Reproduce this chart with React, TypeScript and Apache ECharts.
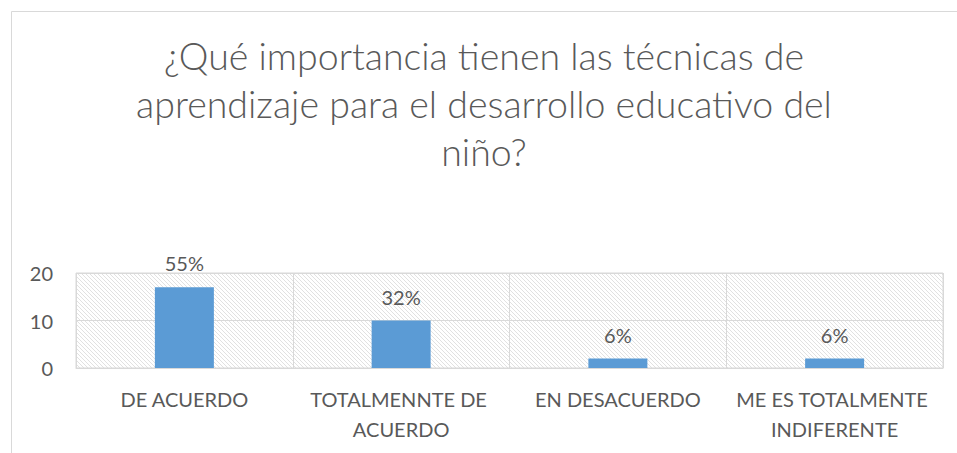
import React, { useEffect, useRef } from "react";
import * as echarts from "echarts";

const titleLines = [
  "¿Qué importancia tienen las técnicas de",
  "aprendizaje para el desarrollo educativo del",
  "niño?",
];
const categories = [
  "DE ACUERDO",
  "TOTALMENNTE DE ACUERDO",
  "EN DESACUERDO",
  "ME ES TOTALMENTE INDIFERENTE",
];
const counts = [17, 10, 2, 2];
const percentLabels = ["55%", "32%", "6%", "6%"];
const yTicks = [0, 10, 20];

const hatchSvg =
  "data:image/svg+xml;utf8," +
  encodeURIComponent(
    '<svg xmlns="http://www.w3.org/2000/svg" width="4" height="4">' +
      '<rect width="4" height="4" fill="#ffffff"/>' +
      '<path d="M-1,-1 L5,5 M-1,3 L1,5 M3,-1 L5,1" stroke="#d9d9d9" stroke-width="0.8"/>' +
      "</svg>"
  );

export default function App() {
  const ref = useRef<HTMLDivElement>(null);
  useEffect(() => {
    if (!ref.current) return;
    const chart = echarts.init(ref.current, undefined, { renderer: "svg" });
    const img = new Image();
    img.src = hatchSvg;
    chart.setOption({
      animation: false,
      backgroundColor: "#ffffff",
      title: {
        text: titleLines.join("\n"),
        left: 479,
        top: 26,
        textAlign: "center",
        textStyle: {
          fontFamily: "Lato",
          fontWeight: 300,
          fontSize: 37.5,
          lineHeight: 48,
          color: "#595959",
        },
      },
      graphic: [
        {
          type: "rect",
          shape: { x: 11.5, y: 11.5, width: 980, height: 480 },
          style: { fill: "none", stroke: "#d9d9d9", lineWidth: 1 },
          z: -10,
        },
      ],
      grid: {
        left: 76,
        right: 14,
        top: 273,
        bottom: 85,
        show: true,
        backgroundColor: { image: img, repeat: "repeat" },
        borderColor: "#d9d9d9",
        borderWidth: 1,
      },
      xAxis: {
        type: "category",
        data: categories,
        axisLine: { show: true, lineStyle: { color: "#d9d9d9" } },
        axisTick: { show: false },
        splitLine: { show: true, lineStyle: { color: "#d9d9d9" } },
        axisLabel: {
          color: "#595959",
          fontFamily: "Lato",
          fontSize: 20,
          lineHeight: 30,
          margin: 16,
          interval: 0,
          width: 212,
          overflow: "break",
        },
      },
      yAxis: {
        type: "value",
        min: yTicks[0],
        max: yTicks[yTicks.length - 1],
        interval: 10,
        axisLine: { show: false },
        axisTick: { show: false },
        splitLine: { show: true, lineStyle: { color: "#d9d9d9" } },
        axisLabel: {
          color: "#595959",
          fontFamily: "Lato",
          fontSize: 20,
          margin: 23,
        },
      },
      series: [
        {
          type: "bar",
          data: counts,
          barWidth: 59,
          itemStyle: { color: "#5b9bd5" },
          label: {
            show: true,
            position: "top",
            distance: 14,
            color: "#595959",
            fontFamily: "Lato",
            fontSize: 20,
            formatter: (p: any) => percentLabels[p.dataIndex],
          },
        },
      ],
    });
    return () => chart.dispose();
  }, []);
  return (
    <div
      ref={ref}
      style={{ position: "fixed", left: 0, top: 0, width: 957, height: 453 }}
    />
  );
}
